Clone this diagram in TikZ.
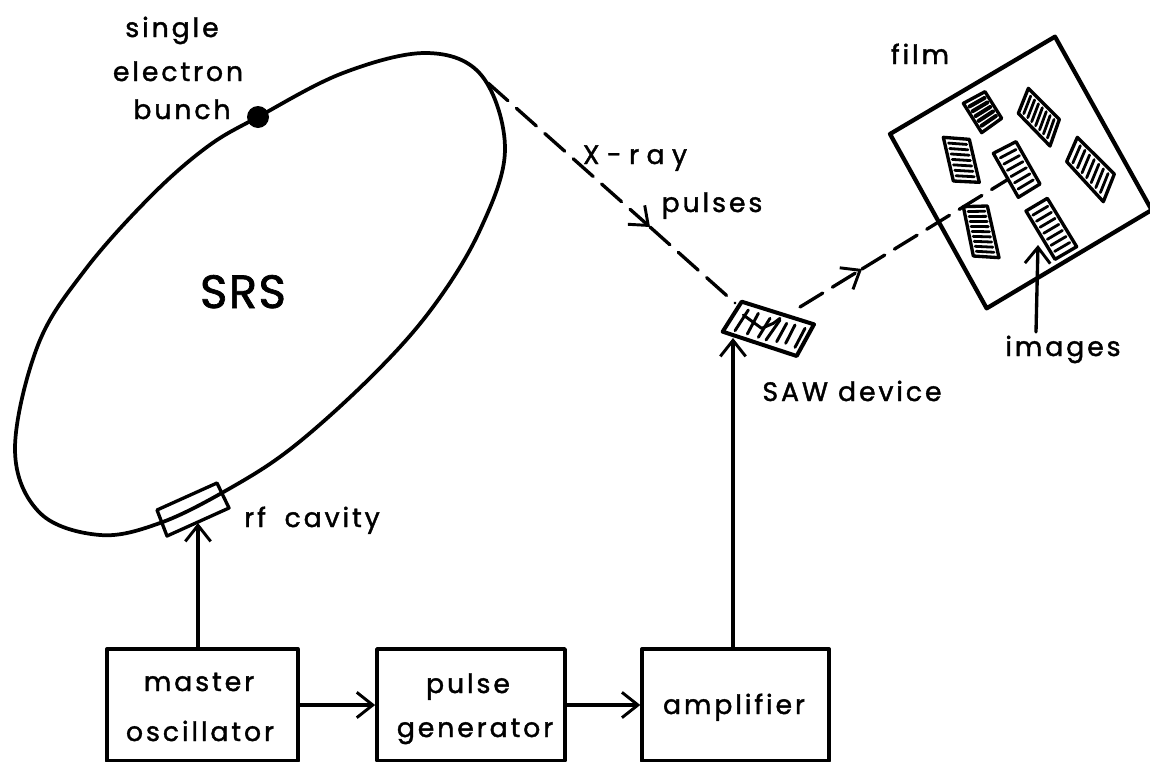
\documentclass[tikz,border=0pt]{standalone}
\usepackage{fontspec}
\setmainfont{Poppins}[LetterSpace=11,FakeBold=1.5]
\usetikzlibrary{arrows.meta,calc}
\tikzset{
 ink/.style={line width=2.5pt,line cap=round,line join=round,black},
 fineink/.style={line width=2.2pt,line cap=round,line join=round,black},
 barb/.tip={Straight Barb[length=12pt,width=19pt,line width=2.2pt]},
 arr/.style={ink,-barb},
 beam/.style={ink,dash pattern=on 20pt off 8.5pt},
 blockbox/.style={draw,ink,line width=2.8pt,fill=white,minimum width=#1,minimum height=84pt,inner sep=0pt},
 lbl/.style={font=\fontsize{20}{24}\selectfont,inner sep=0pt,text=black,anchor=base},
}
\newcommand{\imgbox}[6][2.1pt]{%
 \coordinate (P) at #2; \coordinate (Q) at #3; \coordinate (R) at #4; \coordinate (S) at #5;
 \draw[ink] (P)--(Q)--(R)--(S)--cycle;
 \pgfmathsetmacro{\nn}{#6+1}
 \foreach \k in {1,...,#6}{
  \pgfmathsetmacro{\tt}{\k/\nn}
  \coordinate (A) at ($(P)!\tt!(Q)$); \coordinate (B) at ($(S)!\tt!(R)$);
  \draw[line width=#1,line cap=round] ($(A)!.15!(B)$)--($(A)!.85!(B)$);
 }}
\begin{document}
\begin{tikzpicture}[x=.75pt,y=-.75pt]
\useasboundingbox (0,0) rectangle (1150,761);
% ring
\draw[ink,line width=2.8pt] plot[smooth cycle,tension=0.6] coordinates {
 (258,117)(343,73)(427,53)(482,76)(505,150)(480,230)(433,307)
 (373,375)(293,447)(227,490)(160,523)(100,535)(40,513)(15,450)
 (38,345)(85,270)(150,197)(207,147)};
\fill (258,117) circle (11);
% cavity
\draw[ink] (157,510)--(217,483)--(229,508)--(167,536)--cycle;
\coordinate (cav) at (198,523);
% SAW
\begin{scope}[shift={(690,260)},x=.25pt,y=-.25pt]
\draw[ink,line width=3pt] (155,125)--(372,193)--(320,288)--(98,215)--cycle;
\foreach \xa/\ya/\xb/\yb in {175/150/135/212,205/160/172/222,240/175/205/232,270/180/228/240,290/190/260/245,315/195/287/250,345/205/315/262}{
 \draw[fineink] (\xa,\ya)--(\xb,\yb);
}
\draw[fineink] (160,165)--(215,205)--(250,190)--(270,175);
\end{scope}
\coordinate (saw) at (733,338);
\coordinate (sawout) at (800,307);
\coordinate (sawin) at (735,303);
\coordinate (src) at (488,83);
\coordinate (tip1) at (650,227);
\coordinate (tip2) at (862,269);
\coordinate (beamend) at (1007,180);
\coordinate (imgtip) at (1038,245);
\coordinate (imgtail) at (1036,332);
% film
\begin{scope}[shift={(880,20)},x=.25pt,y=-.25pt]
\draw[ink,line width=3.2pt] (525,50)--(30,342)--(320,865)--(815,570)--cycle;
\imgbox[3pt]{(250,250)}{(305,338)}{(365,295)}{(315,215)}{5}
\imgbox{(445,205)}{(538,298)}{(510,378)}{(415,280)}{7}
\imgbox{(592,352)}{(703,462)}{(670,545)}{(560,425)}{7}
\imgbox{(190,352)}{(220,483)}{(298,487)}{(268,358)}{7}
\imgbox{(340,400)}{(415,532)}{(480,492)}{(408,365)}{6}
\imgbox{(250,560)}{(280,708)}{(357,713)}{(322,558)}{9}
\imgbox{(438,573)}{(525,718)}{(590,680)}{(502,535)}{7}
\end{scope}
% blocks
\node[blockbox=143pt] (master) at (202.5,705) {};
\node[blockbox=141pt] (pulse) at (471,705) {};
\node[blockbox=140pt] (amp) at (735.5,705) {};
% connectors
\draw[arr] (master.north -| cav) -- (cav);
\draw[arr] (master.east) -- (pulse.west);
\draw[arr] (pulse.east) -- (amp.west);
\draw[arr] (amp.north -| saw) -- (saw);
\draw[beam,-barb] (src) -- (tip1);
\draw[beam] (tip1) -- (sawin);
\draw[beam,-barb] (sawout) -- (tip2);
\draw[beam] (tip2) -- (beamend);
\draw[arr] (imgtail) -- (imgtip);
% labels (baselines)
\node[lbl] at (172,37) {single};
\node[lbl] at (178,81) {electron};
\node[lbl] at (182,119) {bunch};
\node[lbl,font=\fontsize{35}{40}\selectfont\addfontfeature{LetterSpace=3}] at (243,308) {SRS};
\node[lbl,font=\fontsize{20}{24}\selectfont\addfontfeature{LetterSpace=28}] at (635,164) {X-ray};
\node[lbl] at (712,212) {pulses};
\node[lbl] at (920,64) {film};
\node[lbl] at (1063,356) {images};
\node[lbl] at (852,401) {SAW device};
\node[lbl] at (312,527) {rf\hspace{14pt}cavity};
\node[lbl] at (199,691) {master};
\node[lbl] at (200,741) {oscillator};
\node[lbl] at (468,693) {pulse};
\node[lbl] at (475,737) {generator};
\node[lbl] at (734,714) {amplifier};
\end{tikzpicture}
\end{document}
